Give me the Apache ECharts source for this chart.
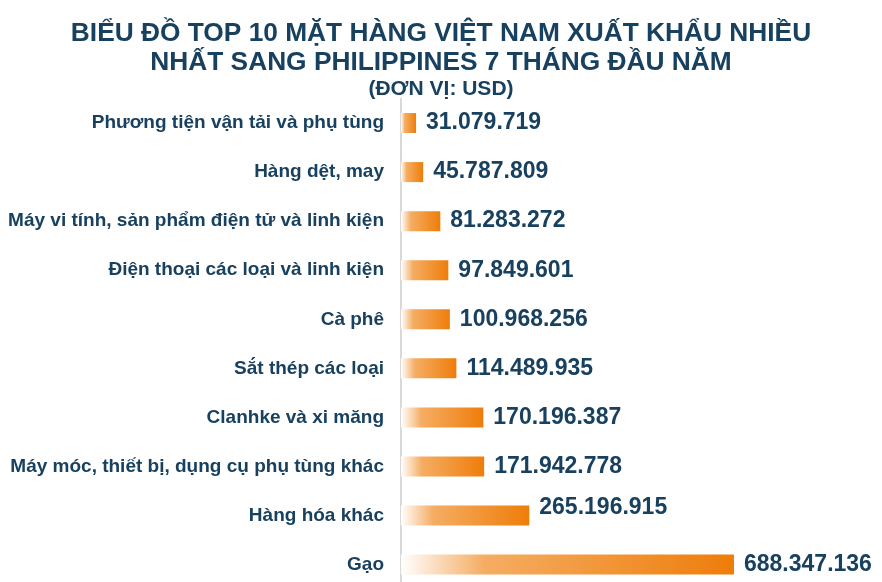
<!DOCTYPE html>
<html><head><meta charset="utf-8">
<script src="https://cdn.jsdelivr.net/npm/echarts@6/dist/echarts.min.js"></script>
<style>html,body{margin:0;padding:0;background:#fff}#c{width:882px;height:582px}</style>
</head><body><div id="c"></div>
<script>
const categories = [
  "Phương tiện vận tải và phụ tùng",
  "Hàng dệt, may",
  "Máy vi tính, sản phẩm điện tử và linh kiện",
  "Điện thoại các loại và linh kiện",
  "Cà phê",
  "Sắt thép các loại",
  "Clanhke và xi măng",
  "Máy móc, thiết bị, dụng cụ phụ tùng khác",
  "Hàng hóa khác",
  "Gạo"
];
const values = [31079719, 45787809, 81283272, 97849601, 100968256, 114489935, 170196387, 171942778, 265196915, 688347136];
const titleText = "BIỂU ĐỒ TOP 10 MẶT HÀNG VIỆT NAM XUẤT KHẨU NHIỀU\nNHẤT SANG PHILIPPINES 7 THÁNG ĐẦU NĂM";
const subText = "(ĐƠN VỊ: USD)";

const navy = '#18405f';
const fmt = v => String(v).replace(/\B(?=(\d{3})+(?!\d))/g, '.');
const chart = echarts.init(document.getElementById('c'));
const grad = new echarts.graphic.LinearGradient(0, 0, 1, 0, [
  {offset: 0, color: '#ffffff'},
  {offset: 0.25, color: '#f5ad63'},
  {offset: 1, color: '#ee7d0a'}
]);
chart.setOption({
  animation: false,
  title: [
    {text: titleText, left: 'center', top: 19, padding: 0,
     textStyle: {fontFamily: 'Liberation Sans', fontWeight: 'bold', fontSize: 26.3, color: navy, lineHeight: 29, align: 'center'}},
    {text: subText, left: 'center', top: 77.5, padding: 0,
     textStyle: {fontFamily: 'Liberation Sans', fontWeight: 'bold', fontSize: 21, color: navy, lineHeight: 24}}
  ],
  grid: {left: 401, top: 98.5, height: 490.6, width: 387, outerBoundsMode: 'none', containLabel: false},
  xAxis: {type: 'value', min: 0, max: 800000000, show: false},
  yAxis: {
    type: 'category', data: categories, inverse: true,
    axisTick: {show: false},
    axisLine: {show: true, lineStyle: {color: '#d9d9d9', width: 2}},
    axisLabel: {margin: 17, fontFamily: 'Liberation Sans', fontWeight: 'bold', fontSize: 19, color: navy}
  },
  series: [{
    type: 'bar', barWidth: 20,
    data: values.map((v, i) => ({value: v, label: i === 8 ? {offset: [0, -8]} : undefined})),
    itemStyle: {color: grad},
    label: {show: true, position: 'right', distance: 10, formatter: p => fmt(p.value),
      fontFamily: 'Liberation Sans', fontWeight: 'bold', fontSize: 23, color: navy}
  }]
});
</script></body></html>
